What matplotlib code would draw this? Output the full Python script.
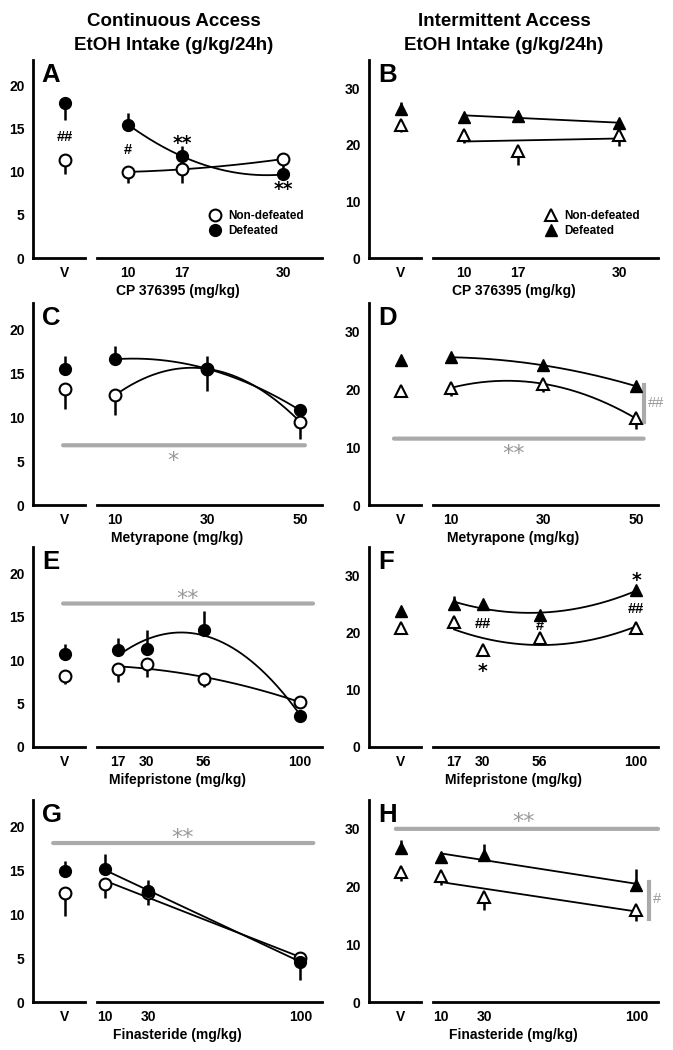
import numpy as np
import matplotlib
matplotlib.use('Agg')
import matplotlib.pyplot as plt
from matplotlib.lines import Line2D
from matplotlib.patches import ConnectionPatch

plt.rcParams['font.family'] = ['Liberation Sans', 'DejaVu Sans']
plt.rcParams['font.weight'] = 'bold'

# first value of each group list is the vehicle (V) point, then one per dose
# error lists: sign tells which side the SEM bar goes (+ up, - down)

# A - CP 376395, continuous access
A_dose = [10, 17, 30]
A_non = [11.4, 10.0, 10.3, 11.5]
A_non_err = [-1.7, -1.3, -1.6, -1.0]
A_def = [18.0, 15.5, 11.8, 9.7]
A_def_err = [-2.0, 1.4, 1.2, 0.0]

# B - CP 376395, intermittent access
B_dose = [10, 17, 30]
B_non = [23.5, 21.75, 19.0, 21.75]
B_non_err = [-1.3, -1.5, -2.6, -2.0]
B_def = [26.3, 25.0, 25.1, 23.8]
B_def_err = [1.2, 0.0, 0.0, 0.0]

# C - metyrapone, continuous access
C_dose = [10, 30, 50]
C_non = [13.2, 12.5, 15.5, 9.5]
C_non_err = [-2.3, -2.3, -2.5, -2.0]
C_def = [15.5, 16.6, 15.5, 10.8]
C_def_err = [1.5, 1.5, 1.5, 0.7]

# D - metyrapone, intermittent access
D_dose = [10, 30, 50]
D_non = [19.7, 20.3, 21.0, 15.0]
D_non_err = [-0.8, -1.4, -1.5, -1.9]
D_def = [25.2, 25.6, 24.2, 20.6]
D_def_err = [0.0, 0.0, 0.0, 0.0]

# E - mifepristone, continuous access
E_dose = [17, 30, 56, 100]
E_non = [8.2, 9.0, 9.5, 7.8, 5.2]
E_non_err = [-1.0, -1.5, -1.5, -0.9, 0.0]
E_def = [10.7, 11.1, 11.3, 13.4, 3.6]
E_def_err = [1.2, 1.4, 2.1, 2.2, 0.0]

# F - mifepristone, intermittent access
F_dose = [17, 30, 56, 100]
F_non = [20.9, 21.8, 16.9, 19.0, 20.9]
F_non_err = [-0.9, 0.0, -1.0, -1.1, 0.0]
F_def = [23.8, 25.0, 25.0, 23.1, 27.4]
F_def_err = [0.0, 1.5, 0.0, 0.0, 0.0]

# G - finasteride, continuous access
G_dose = [10, 30, 100]
G_non = [12.4, 13.4, 12.4, 5.0]
G_non_err = [-2.6, -1.6, -1.4, 0.5]
G_def = [14.9, 15.1, 12.6, 4.6]
G_def_err = [1.2, 1.8, 1.3, -2.1]

# H - finasteride, intermittent access
H_dose = [10, 30, 100]
H_non = [22.5, 21.9, 18.2, 16.0]
H_non_err = [-1.6, -1.7, -2.2, -1.9]
H_def = [26.7, 25.1, 25.4, 20.3]
H_def_err = [1.3, 0.0, 2.0, 2.8]

W, H = 673, 1050
fig = plt.figure(figsize=(W / 100, H / 100), dpi=100)

GRAY = '#aaaaaa'
GRAY_TXT = '#999999'
rows = [(60, 258), (303, 505), (547, 747), (800, 1002)]


def add_ax(x0, x1, top, bot):
    return fig.add_axes([x0 / W, 1 - bot / H, (x1 - x0) / W, (bot - top) / H])


def sem(err):
    err = np.array(err)
    return [np.where(err < 0, -err, 0), np.where(err > 0, err, 0)]


def panel(col, row, letter, dose, non, non_err, dfd, dfd_err, deg, xlim, drug):
    off = 336 * col
    top, bot = rows[row]
    axv = add_ax(33 + off, 85 + off, top, bot)
    axd = add_ax(97 + off, 322 + off, top, bot)
    ymax = 23 if col == 0 else 35
    mk = 'o' if col == 0 else '^'
    ms = 8.5 if col == 0 else 9
    for ax in (axv, axd):
        ax.set_ylim(0, ymax)
        for s in ['top', 'right']:
            ax.spines[s].set_visible(False)
        ax.spines['bottom'].set_linewidth(2)
        ax.spines['left'].set_linewidth(2)
        ax.tick_params(length=0, labelsize=10, pad=6)
        ax.patch.set_alpha(0)
    axd.spines['left'].set_visible(False)
    axd.set_yticks([])
    axv.set_yticks([0, 5, 10, 15, 20] if col == 0 else [0, 10, 20, 30])
    axv.set_xlim(-1, 0.625)
    axv.set_xticks([0])
    axv.set_xticklabels(['V'])
    axd.set_xlim(*xlim)
    axd.set_xticks(dose)
    axd.set_xticklabels([str(d) for d in dose])

    # fitted trend lines
    xs = np.linspace(dose[0], dose[-1], 200)
    for vals in (non[1:], dfd[1:]):
        p = np.polyfit(dose, vals, deg)
        axd.plot(xs, np.polyval(p, xs), color='k', lw=1.3, zorder=2)

    for ax, x, sl in ((axv, [0], slice(0, 1)), (axd, dose, slice(1, None))):
        ax.errorbar(x, non[sl], yerr=sem(non_err[sl]), fmt='none', ecolor='k',
                    elinewidth=1.8, capsize=0, zorder=3)
        ax.errorbar(x, dfd[sl], yerr=sem(dfd_err[sl]), fmt='none', ecolor='k',
                    elinewidth=1.8, capsize=0, zorder=3)
        ax.plot(x, non[sl], mk, ms=ms, mfc='white', mec='k', mew=1.5, zorder=4)
        ax.plot(x, dfd[sl], mk, ms=ms, mfc='k', mec='k', zorder=5)
        for a in ax.collections + ax.lines:
            a.set_clip_on(False)

    axv.text(0.17, 0.985, letter, transform=axv.transAxes, fontsize=18.5,
             ha='left', va='top')
    fig.text((axv.get_position().x0 + axd.get_position().x1) / 2,
             1 - (bot + 33) / H, drug, ha='center', va='center', fontsize=10)
    return axv, axd, mk, ms


def gray_bar(axv, axd, x0, x1, y):
    con = ConnectionPatch(xyA=(x0, y), coordsA=axv.transData,
                          xyB=(x1, y), coordsB=axd.transData,
                          color=GRAY, lw=3, zorder=1)
    fig.add_artist(con)


def mark(ax, x, y, s, size=None, color='k'):
    fam = 'Liberation Sans'
    if '*' in s:
        fam = 'DejaVu Sans'
    if size is None:
        size = 13.5 if '*' in s else 10.5
    ax.text(x, y, s, ha='center', va='center', fontsize=size, color=color,
            family=fam, fontweight='bold' if color == 'k' else 'normal')


def legend(axd, mk, ms):
    hl = [Line2D([], [], ls='none', marker=mk, ms=ms, mfc='white', mec='k', mew=1.5),
          Line2D([], [], ls='none', marker=mk, ms=ms, mfc='k', mec='k')]
    axd.legend(hl, ['Non-defeated', 'Defeated'], loc='upper left',
               bbox_to_anchor=(0.5, 0.24), frameon=False, fontsize=8.5,
               handlelength=1, handletextpad=0.6, labelspacing=0.2,
               borderpad=0, borderaxespad=0)


# headers
fig.text(174 / W, 1 - 22 / H, 'Continuous Access', ha='center', va='center', fontsize=13.5)
fig.text(174 / W, 1 - 45 / H, 'EtOH Intake (g/kg/24h)', ha='center', va='center', fontsize=13.5)
fig.text(504 / W, 1 - 22 / H, 'Intermittent Access', ha='center', va='center', fontsize=13.5)
fig.text(504 / W, 1 - 45 / H, 'EtOH Intake (g/kg/24h)', ha='center', va='center', fontsize=13.5)

# A
axv, axd, mk, ms = panel(0, 0, 'A', A_dose, A_non, A_non_err, A_def, A_def_err, 2,
                         (6, 35), 'CP 376395 (mg/kg)')
mark(axv, 0, 14.0, '##')
mark(axd, 10, 12.5, '#')
mark(axd, 17, 13.3, '**')
mark(axd, 30, 7.9, '**')
legend(axd, mk, ms)

# B
axv, axd, mk, ms = panel(1, 0, 'B', B_dose, B_non, B_non_err, B_def, B_def_err, 1,
                         (6, 35), 'CP 376395 (mg/kg)')
legend(axd, mk, ms)

# C
axv, axd, mk, ms = panel(0, 1, 'C', C_dose, C_non, C_non_err, C_def, C_def_err, 2,
                         (6.1, 54.8), 'Metyrapone (mg/kg)')
gray_bar(axv, axd, -0.06, 51.1, 6.8)
mark(axd, 22.5, 5.0, '*', 16, GRAY_TXT)

# D
axv, axd, mk, ms = panel(1, 1, 'D', D_dose, D_non, D_non_err, D_def, D_def_err, 2,
                         (6.1, 54.8), 'Metyrapone (mg/kg)')
gray_bar(axv, axd, -0.22, 51.7, 11.5)
mark(axd, 23.6, 8.9, '**', 16, GRAY_TXT)
axd.plot([51.7, 51.7], [14.4, 20.8], color=GRAY, lw=3, clip_on=False)
mark(axd, 54.3, 17.6, '##', 10.5, GRAY_TXT)

# E
axv, axd, mk, ms = panel(0, 2, 'E', E_dose, E_non, E_non_err, E_def, E_def_err, 2,
                         (7.4, 110), 'Mifepristone (mg/kg)')
gray_bar(axv, axd, -0.06, 105.9, 16.5)
mark(axd, 48.5, 17.0, '**', 16, GRAY_TXT)

# F
axv, axd, mk, ms = panel(1, 2, 'F', F_dose, F_non, F_non_err, F_def, F_def_err, 2,
                         (7.4, 110), 'Mifepristone (mg/kg)')
mark(axd, 30, 21.6, '##')
mark(axd, 30, 13.2, '*')
mark(axd, 56, 21.2, '#')
mark(axd, 100, 29.1, '*')
mark(axd, 100, 24.1, '##')

# G
axv, axd, mk, ms = panel(0, 3, 'G', G_dose, G_non, G_non_err, G_def, G_def_err, 1,
                         (6.3, 110), 'Finasteride (mg/kg)')
gray_bar(axv, axd, -0.37, 106, 18.1)
mark(axd, 45.5, 18.7, '**', 16, GRAY_TXT)

# H
axv, axd, mk, ms = panel(1, 3, 'H', H_dose, H_non, H_non_err, H_def, H_def_err, 1,
                         (6.3, 110), 'Finasteride (mg/kg)')
gray_bar(axv, axd, -0.16, 110, 30.0)
mark(axd, 47.8, 31.2, '**', 16, GRAY_TXT)
axd.plot([106, 106], [14.3, 20.8], color=GRAY, lw=3, clip_on=False)
mark(axd, 109.7, 17.9, '#', 10.5, GRAY_TXT)

fig.savefig('out.png', dpi=100)
